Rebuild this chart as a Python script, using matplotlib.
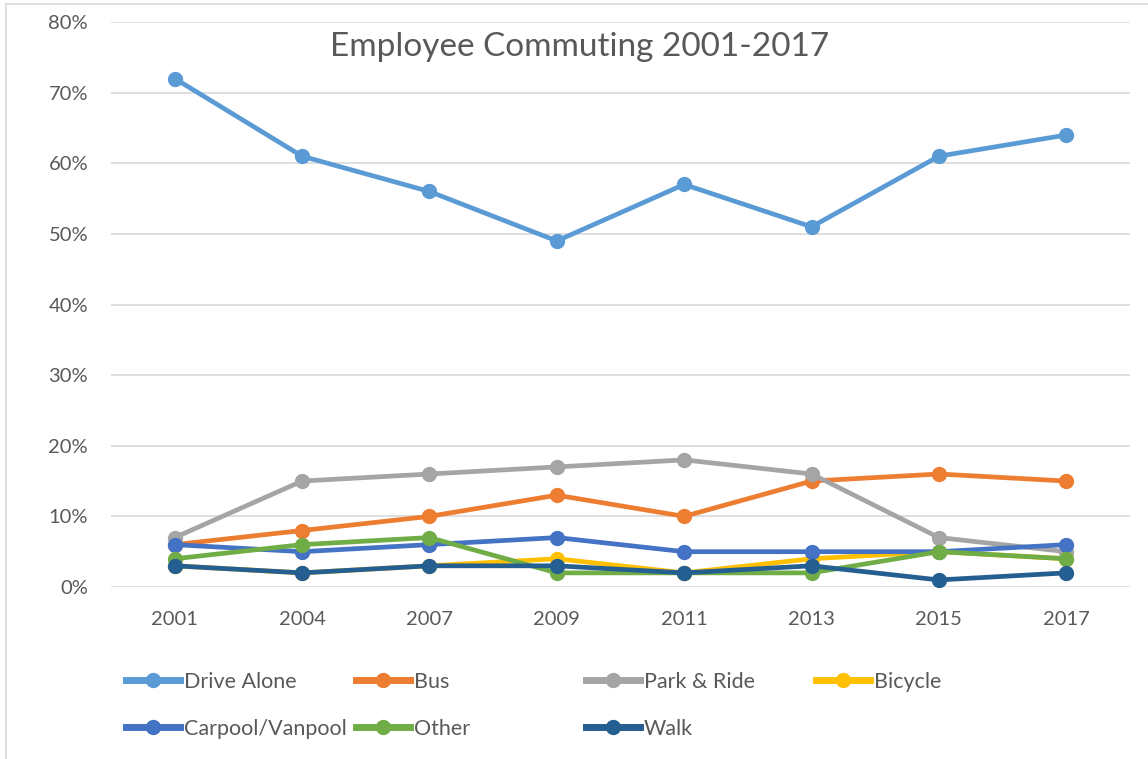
import matplotlib.pyplot as plt
from matplotlib.lines import Line2D

plt.rcParams['font.family'] = ['Lato', 'DejaVu Sans']

years = ['2001', '2004', '2007', '2009', '2011', '2013', '2015', '2017']

drive_alone = [72, 61, 56, 49, 57, 51, 61, 64]
bus = [6, 8, 10, 13, 10, 15, 16, 15]
park_ride = [7, 15, 16, 17, 18, 16, 7, 5]
bicycle = [3, 2, 3, 4, 2, 4, 5, 4]
carpool = [6, 5, 6, 7, 5, 5, 5, 6]
other = [4, 6, 7, 2, 2, 2, 5, 4]
walk = [3, 2, 3, 3, 2, 3, 1, 2]

series = [
    ('Drive Alone', drive_alone, '#5B9BD5'),
    ('Bus', bus, '#ED7D31'),
    ('Park & Ride', park_ride, '#A5A5A5'),
    ('Bicycle', bicycle, '#FFC000'),
    ('Carpool/Vanpool', carpool, '#4472C4'),
    ('Other', other, '#70AD47'),
    ('Walk', walk, '#255E91'),
]

W, H = 1148, 759
fig = plt.figure(figsize=(W / 100, H / 100), dpi=100)
ax = fig.add_axes([111 / W, 1 - 587 / H, (1130 - 111) / W, (587 - 22) / H])

x = range(len(years))
handles = {}
for name, vals, col in series:
    ln, = ax.plot(x, [v / 100 for v in vals], color=col, lw=3.4, marker='o',
                  markersize=10, solid_capstyle='round', label=name)
    handles[name] = ln

ax.set_xlim(-0.5, len(years) - 0.5)
ax.set_ylim(0, 0.8)
ax.set_yticks([i / 10 for i in range(9)])
ax.set_yticklabels([f'{i * 10}%' for i in range(9)])
ax.set_xticks(list(x))
ax.set_xticklabels(years)
ax.tick_params(length=0, labelsize=14.5, labelcolor='#595959')
ax.tick_params(axis='y', pad=16.5)
ax.tick_params(axis='x', pad=17)
ax.grid(axis='y', color='#D9D9D9', lw=1.2)
ax.set_axisbelow(True)
for s in ax.spines.values():
    s.set_visible(False)

fig.text(580 / W, 1 - 47 / H, 'Employee Commuting 2001-2017', fontsize=24,
         color='#595959', ha='center', va='center')

# legend in four fixed-width columns like Excel
columns = [['Drive Alone', 'Carpool/Vanpool'], ['Bus', 'Other'],
           ['Park & Ride', 'Walk'], ['Bicycle']]
for j, names in enumerate(columns):
    hs = [Line2D([], [], color=handles[n].get_color(), lw=5, marker='o',
                 markersize=10) for n in names]
    leg = fig.legend(hs, names, loc='upper left',
                     bbox_to_anchor=((126 + 230 * j) / W, 1 - 672 / H),
                     frameon=False, fontsize=15.5, handlelength=2.5,
                     handletextpad=0.2, labelspacing=1.25, borderpad=0,
                     borderaxespad=0)
    for t in leg.get_texts():
        t.set_color('#595959')

# chart border (top and left visible)
fig.add_artist(Line2D([6 / W, 1], [1 - 4 / H, 1 - 4 / H], color='#D9D9D9', lw=1.2))
fig.add_artist(Line2D([6 / W, 6 / W], [0, 1 - 4 / H], color='#D9D9D9', lw=1.2))

fig.savefig('out.png', dpi=100)
